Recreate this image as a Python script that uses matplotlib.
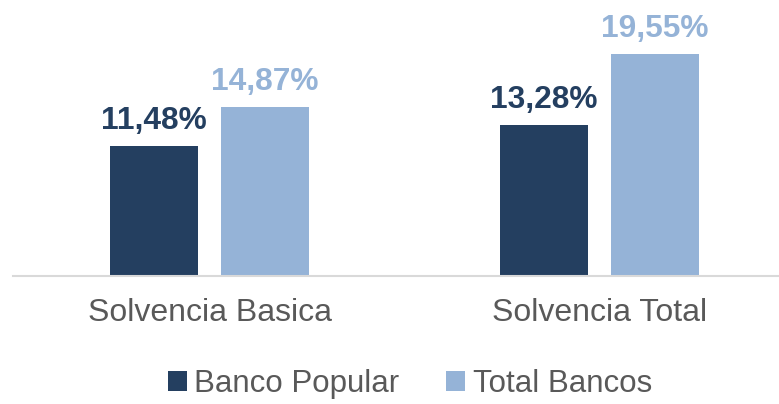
import matplotlib
matplotlib.use("Agg")
import matplotlib.pyplot as plt
import numpy as np
from matplotlib.patches import Patch

categories = ["Solvencia Basica", "Solvencia Total"]
series_names = ["Banco Popular", "Total Bancos"]
banco_popular = [11.48, 13.28]
total_bancos = [14.87, 19.55]
colors = ["#243F60", "#95B3D7"]

plt.rcParams['font.family'] = ['Liberation Sans', 'DejaVu Sans']

W, H = 779, 404
fig = plt.figure(figsize=(W / 100, H / 100), dpi=100)
ax = fig.add_axes([13 / W, (H - 276) / H, (W - 13) / W, 276 / H])

x = np.arange(len(categories))
width = 0.226
off = 0.142
b1 = ax.bar(x - off, banco_popular, width, color=colors[0], zorder=2)
b2 = ax.bar(x + off, total_bancos, width, color=colors[1], zorder=2)

def fmt(v):
    return f"{v:.2f}%".replace(".", ",")

for bars, vals, c in ((b1, banco_popular, colors[0]), (b2, total_bancos, colors[1])):
    for rect, v in zip(bars, vals):
        ax.annotate(fmt(v), (rect.get_x() + rect.get_width() / 2, v),
                    xytext=(0, 7), textcoords="offset points",
                    ha="center", va="bottom", fontsize=22.8, fontweight="bold", color=c)

ax.set_xlim(-0.504, 1.46)
ax.set_ylim(0, 24.3)
ax.set_yticks([])
ax.set_xticks(x)
ax.set_xticklabels(categories, fontsize=23, color="#595959")
ax.tick_params(axis="x", length=0, pad=16)
for s in ("top", "right", "left"):
    ax.spines[s].set_visible(False)
ax.spines["bottom"].set_color("#D9D9D9")
ax.spines["bottom"].set_linewidth(1.5)

handles = [Patch(facecolor=colors[0]), Patch(facecolor=colors[1])]
fig.legend(handles, series_names, loc="lower center", bbox_to_anchor=(410 / W, -0.058),
           ncol=2, frameon=False, fontsize=22.5, handlelength=0.6, handleheight=0.6,
           handletextpad=0.25, columnspacing=1.5, labelcolor="#595959")

fig.savefig("out.png", dpi=100)
